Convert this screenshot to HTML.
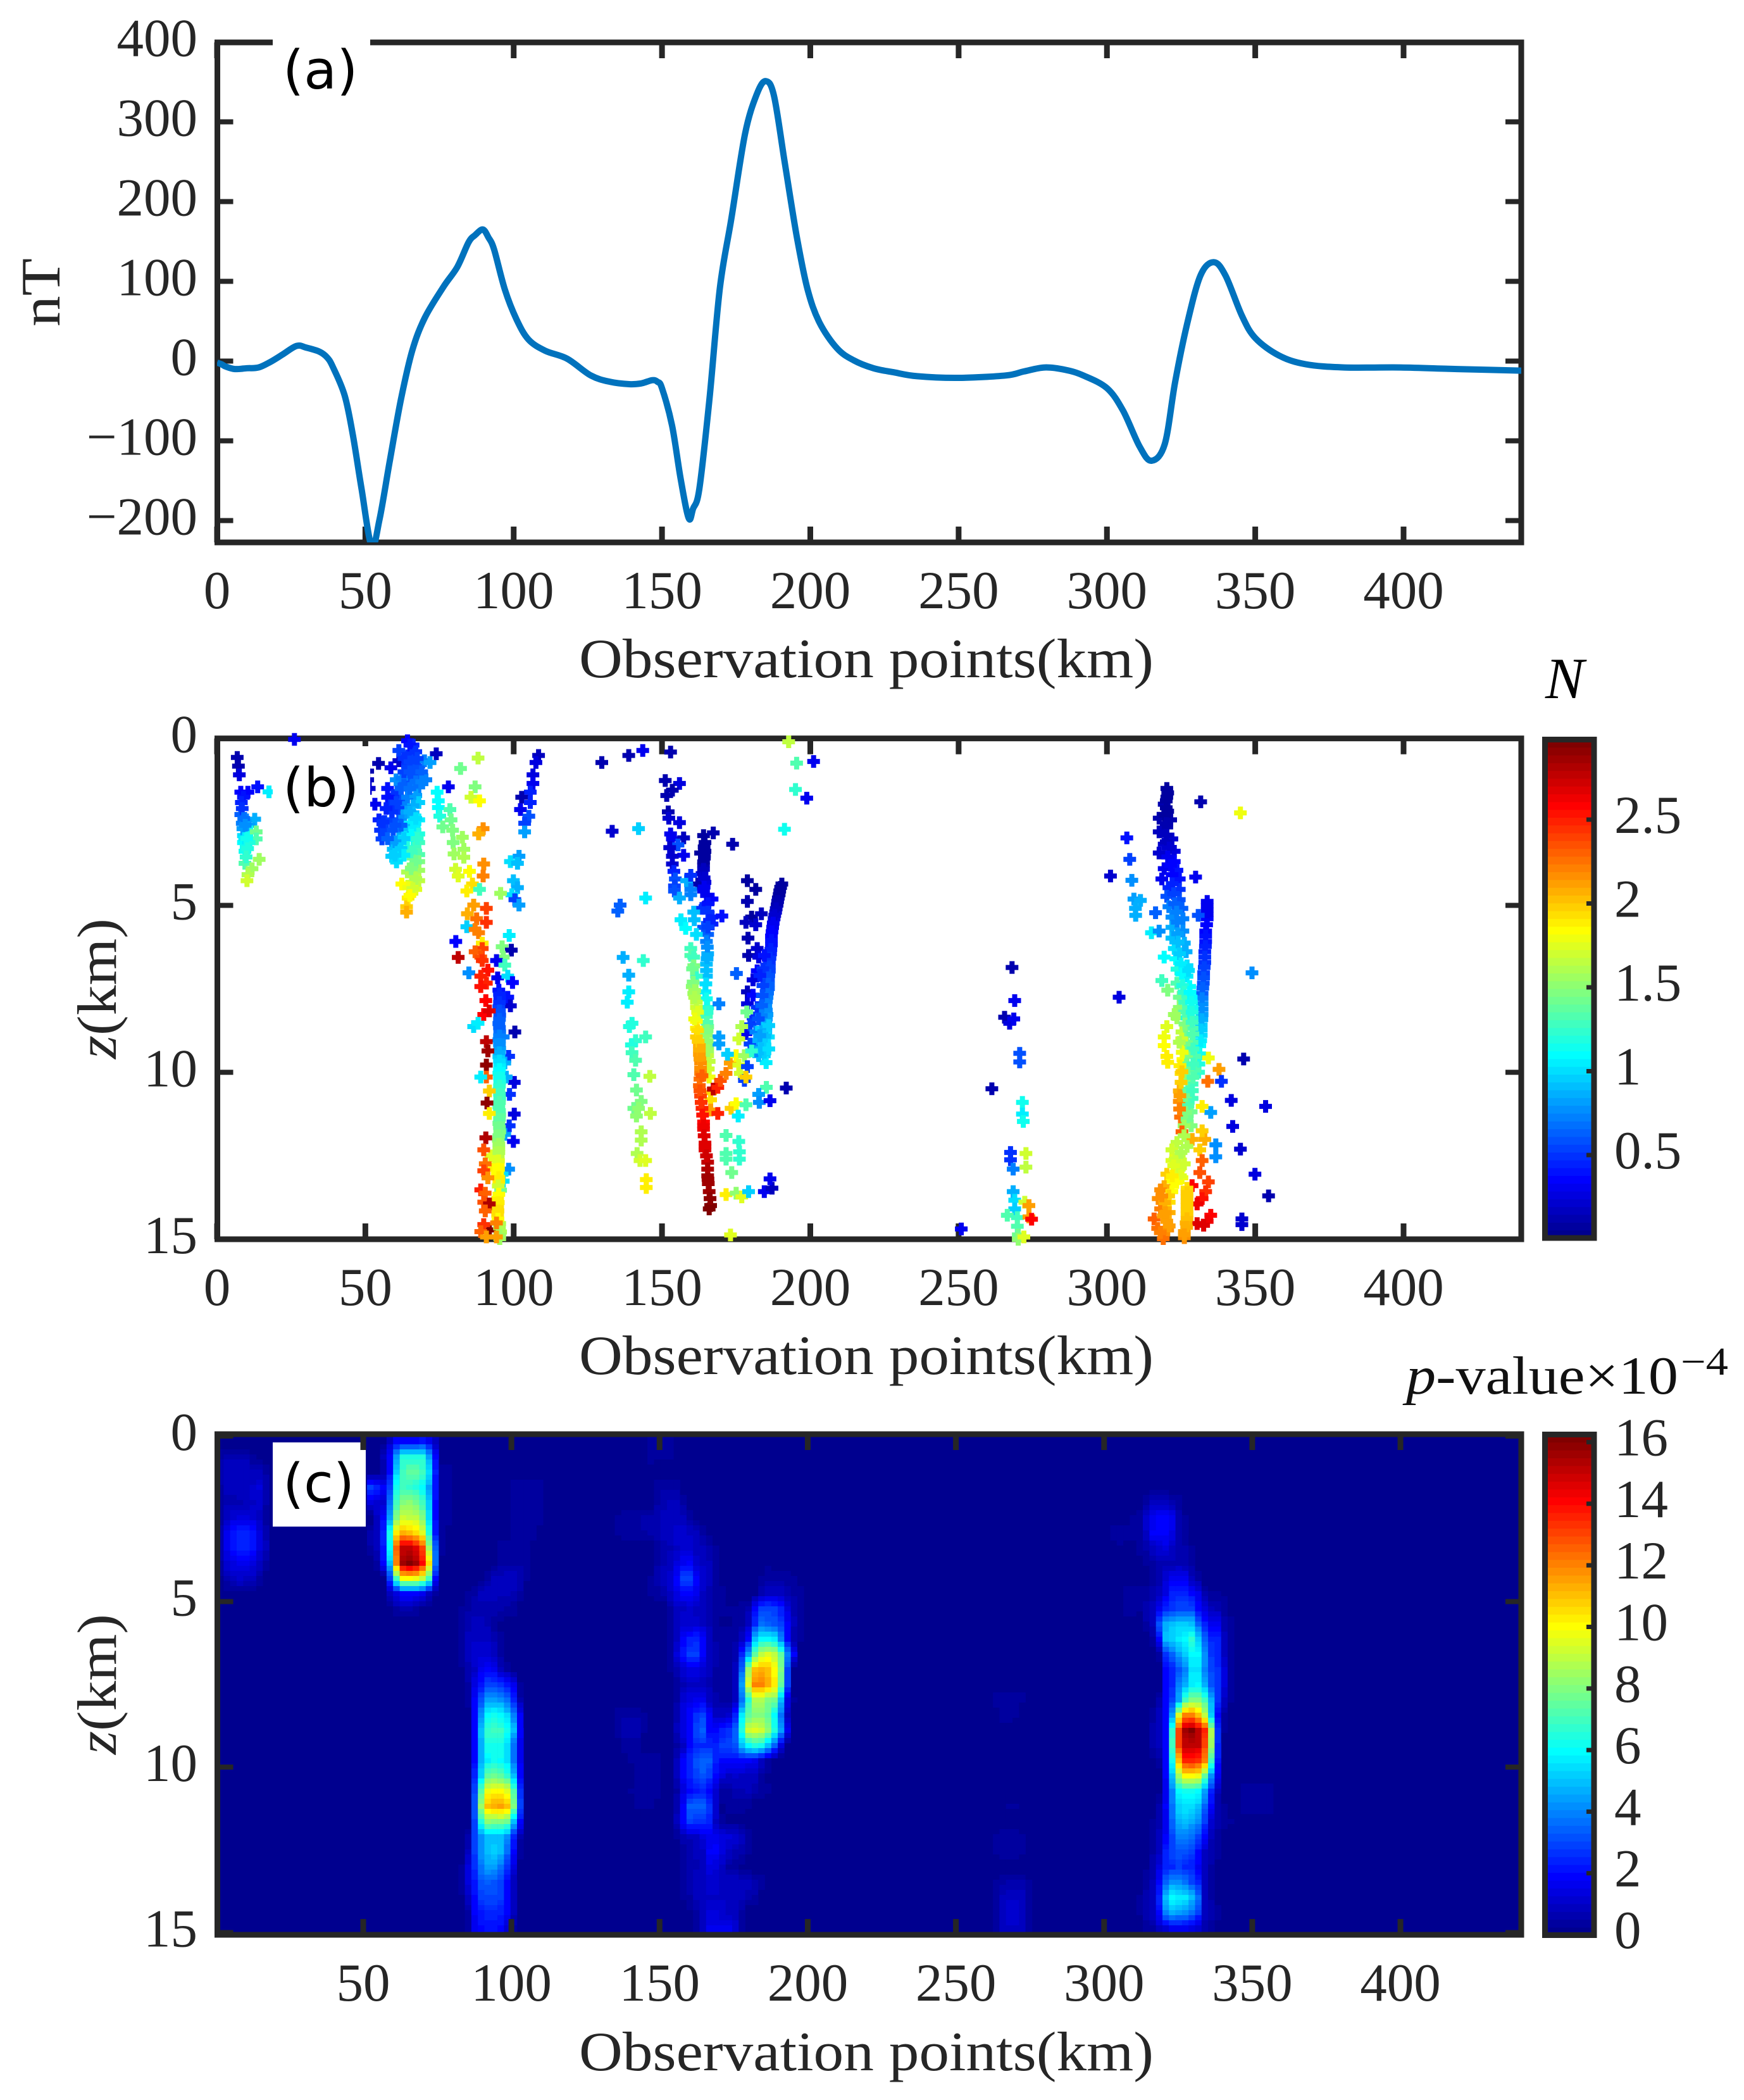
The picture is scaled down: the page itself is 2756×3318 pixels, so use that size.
<!DOCTYPE html>
<html lang="en">
<head>
<meta charset="utf-8">
<title>Magnetic profile, N estimates and p-value sections</title>
<style>
html,body{margin:0;padding:0;background:#fff;}
svg{display:block;}
text{font-family:"Liberation Serif","DejaVu Serif",serif;fill:#262626;}
.panel-tag{font-family:"DejaVu Sans","Liberation Sans",sans-serif;font-size:85px;fill:#000;}
</style>
</head>
<body>
<svg id="figure" xmlns="http://www.w3.org/2000/svg" width="2756" height="3318" viewBox="0 0 2756 3318">
<rect x="0" y="0" width="2756" height="3318" fill="#fff"/>
<defs>
<clipPath id="clip-a"><rect x="343" y="67" width="2061" height="790"/></clipPath>
<clipPath id="clip-c"><rect x="343" y="2266" width="2061" height="791"/></clipPath>
</defs>
<g id="panel-a"></g>
<g id="panel-b"></g>
<g id="panel-c"></g>

<text x="915" y="1070" font-size="88" textLength="908" lengthAdjust="spacingAndGlyphs">Observation points(km)</text>
<text x="915" y="2171" font-size="88" textLength="908" lengthAdjust="spacingAndGlyphs">Observation points(km)</text>
<text x="915" y="3271" font-size="88" textLength="908" lengthAdjust="spacingAndGlyphs">Observation points(km)</text>
<text transform="rotate(-90 94 462)" x="94" y="462" font-size="88" text-anchor="middle" textLength="108" lengthAdjust="spacingAndGlyphs">nT</text>
<text transform="rotate(-90 183 1562)" x="183" y="1562" font-size="88" text-anchor="middle" textLength="222" lengthAdjust="spacingAndGlyphs"><tspan font-style="italic">z</tspan>(km)</text>
<text transform="rotate(-90 183 2661)" x="183" y="2661" font-size="88" text-anchor="middle" textLength="222" lengthAdjust="spacingAndGlyphs"><tspan font-style="italic">z</tspan>(km)</text>
<text x="2442" y="1103" font-size="92" font-style="italic" style="fill:#000">N</text>
<text x="2222" y="2202" font-size="85" textLength="430" lengthAdjust="spacingAndGlyphs" style="fill:#111"><tspan font-style="italic">p</tspan>-value×10</text>
<text x="2656" y="2172" font-size="62" textLength="75" lengthAdjust="spacingAndGlyphs" style="fill:#111">−4</text>
</svg>
<script>
/* ---------- panel (a) magnetic anomaly profile ---------- */
const profileKm = [0,1.5,3,6,10,14,18,22,26.8,30,34.4,37,39,43,45.8,48.7,52.1,54.8,58.2,62,65.8,70,76.3,81,84.8,87,89.6,91.5,93.4,97,101,105,110.6,118,126,132.5,139,143,146.7,148.5,150,153.4,156.3,159,160.5,162.6,166,169.5,173.4,178,182,185,187.8,191.5,195.4,199,203,209,214.6,221.3,228,236,250,266,272,279,286,292,300,305.4,311,315,319.5,323,327,331.5,336,340,345.5,350,358,367,380,399,418,440];
const profileNT = [-2,-4,-7,-10,-9,-8,-1,8,19,17,12,5,-7,-43,-93,-160,-232,-198,-126,-48,13,54,93,118,149,158,165,155,140,90,52,27,13,3,-18,-26,-29,-28,-24,-26,-34,-81,-148,-197,-185,-160,-48,91,179,285,335,351,332,246,157,91,49,16,1,-9,-14,-19,-21,-18,-13,-8,-11,-18,-34,-62,-107,-125,-104,-26,46,107,124,107,57,29,7,-4,-8,-8,-10,-12];
const panelAYTicks = [-200,-100,0,100,200,300,400];
const panelAYLabels = ['−200','−100','0','100','200','300','400'];
const panelXTicks = [0,50,100,150,200,250,300,350,400];
const panelCXTicks = [50,100,150,200,250,300,350,400];
const depthTicks = [0,5,10,15];

/* ---------- panel (b) scatter, each triple is x km, depth km, N ---------- */
const scatterFarLeft = [[6.8,.57,.1],[7.2,.83,.1],[7.5,1.09,.25],[26.1,.03,.3],[13.7,1.45,.4],[10.4,1.61,.35],[8,1.61,.35],[8.9,1.76,.4],[8.2,1.92,.45],[8,2.28,.65],[9.9,2.44,.7],[12.7,2.42,.85],[8.5,2.54,.7],[9.9,2.7,.85],[10.8,2.6,.8],[8.9,2.91,1],[11.3,2.8,1.15],[13.2,2.8,1.4],[13.2,3.01,1.35],[8.9,3.12,1.1],[10.8,3.12,1.2],[9.4,3.38,1.15],[9.4,3.74,1.35],[14.2,3.62,1.55],[11.8,3.9,1.55],[10.4,4.08,1.6],[10.1,4.26,1.7],[17.5,1.6,1.05],[50.8,.98,.1],[50.8,1.24,.15],[51.3,1.5,.2],[8.5,2.1,.5],[9,2.4,.68],[8.7,2.7,.8],[9.5,2.6,.75],[9.3,3,1.05],[10,3,1.12],[9.8,3.25,1.15],[10.3,3.3,1.2],[9.8,3.55,1.25]];
const scatterBody65 = [[54.45,.75,.12],[58.6,.88,.3],[61.3,.67,.2],[73.9,.46,.15],[78,1.45,.3],[53.2,1.97,.3],[64.2,.07,.35],[66.1,.2,.45],[65.6,.41,.5],[64.2,.57,.5],[66.5,.67,.55],[64.2,.83,.55],[68,.83,.6],[61.3,.36,.55],[69.9,.67,.7],[71.8,.72,.8],[66.1,1.03,.6],[68.4,1.14,.65],[70.4,1.24,.7],[64.2,1.24,.6],[66.1,1.4,.7],[68,1.45,.7],[60.4,1.24,.75],[62.3,1.19,.7],[57.5,1.5,.4],[59.4,1.71,.45],[57.5,1.76,.4],[60.8,1.61,.5],[62.3,1.87,.6],[58.5,2.02,.5],[60.4,1.92,.55],[64.2,1.76,.7],[67,1.71,.8],[68,1.92,.95],[66.1,2.02,.85],[63.2,2.07,.7],[54.6,2.44,.45],[56.5,2.49,.5],[58.9,2.44,.55],[61.3,2.44,.6],[63.2,2.33,.75],[66.1,2.23,.9],[68,2.44,1.05],[65.1,2.54,1.05],[55.1,2.75,.5],[57,2.75,.55],[59.4,2.75,.6],[61.8,2.65,.7],[64.2,2.75,.9],[66.5,2.7,1.05],[68,2.86,1.2],[55.6,3.01,.55],[58.9,3.12,.75],[61.3,3.01,.85],[63.2,2.96,1],[66.1,3.01,1.2],[68,3.12,1.3],[59.4,3.32,.9],[61.3,3.32,1],[64.2,3.27,1.2],[67,3.38,1.3],[68,3.48,1.35],[58.9,3.53,.95],[61.8,3.58,1.1],[66.1,3.58,1.4],[68,3.69,1.45],[66.1,3.79,1.45],[68,3.95,1.55],[64.2,4,1.6],[66.5,4.1,1.6],[68,4.26,1.65],[65.6,4.31,1.7],[62.3,4.36,1.85],[64.6,4.47,1.8],[67,4.52,1.75],[64.4,4.78,1.9],[63.9,5.04,2],[63.9,5.2,2.05]];
const scatterBody65Fill = [[65,.2,.4],[67,.4,.5],[63,.6,.5],[65,.7,.52],[67.5,.6,.55],[63,1,.55],[65,1,.58],[67,1,.6],[69,1,.65],[62,1.5,.65],[63,1.4,.62],[65,1.5,.68],[67,1.3,.68],[69,1.3,.7],[61,2.1,.55],[59,2.2,.5],[57,2.1,.45],[62,2.6,.62],[60,2.6,.58],[64,2.2,.8],[65,2.2,.88],[67,2.4,1],[65.5,2.9,1.1],[63,3,.95],[60,3.1,.8],[57.5,3,.62],[56,2.5,.5],[62,3.3,.95],[65.5,3.4,1.3],[67,3.7,1.42],[65.5,3.9,1.48],[67,4.2,1.62],[66,4.5,1.72],[67.5,3,1.25],[63,3.5,1.05],[60.5,3.7,1],[60,3.5,.95],[65,4.7,1.85]];
const scatterDiagonal90 = [[74.2,1.61,1.1],[74.6,1.87,1.1],[74.6,2.07,1.1],[75.1,2.33,1.2],[78.5,2.13,1.35],[78.9,2.44,1.4],[76.1,2.65,1.4],[79.4,2.75,1.45],[82.7,2.96,1.55],[79.6,3.12,1.45],[83.2,3.32,1.55],[79.9,3.46,1.55],[83.2,3.56,1.6],[82.1,.9,1.4],[88,.59,1.65],[87,1.45,1.45],[85.6,1.76,1.7],[88.5,1.87,1.85],[89.7,2.7,2.15],[88.2,2.86,2.05],[80.4,3.92,1.7],[81.3,4.12,1.75],[85.1,3.98,1.85],[89.9,3.76,2.15],[89.7,4.12,2.2],[86.1,4.36,1.95],[84.2,4.57,1.9],[88.5,4.52,1.3],[86.5,4.99,2.1],[90.8,5.09,2.4],[84.4,5.25,2.05],[87.5,5.4,2.25],[90.8,5.51,2.45],[84.2,5.64,.95],[87,5.72,2.2],[88.2,5.82,2.2],[80.5,6.08,.35],[81.3,6.56,2.75],[84.9,7.02,.75],[89.4,6.13,1.9],[89.4,6.29,2.4],[87,6.39,2.3],[88.9,6.55,2.35],[89.4,6.65,2.45],[91.3,6.94,2.55],[88.9,7.12,2.5],[90.8,7.33,2.5],[88.9,7.43,2.55],[90.6,7.85,2.6],[89.9,8.27,2.6],[91.8,8.16,2.7],[86.5,8.63,1],[88,8.53,1.05],[90.8,9.08,2.75],[91.3,9.36,2.85],[90.8,9.78,2.9],[90.8,10.14,2.3],[88.9,10.14,1.05],[91.8,10.56,2],[91,10.92,2.9],[91.8,11.23,1.9],[90.6,11.96,2.8],[89.9,12.32,2.35],[90.4,12.74,2.25],[89.9,12.95,2.4],[91.3,13.16,2.15],[88.9,13.52,2.5],[90.4,13.62,2.3],[89.9,13.89,2.35],[91.8,13.94,2.8],[90.4,14.15,2.3],[89.9,14.56,2.45],[88.9,14.77,2.3],[94.2,14.51,2.2],[94.2,14.93,2.1],[90.8,14.93,2.1]];
const scatterRight100 = [[108.4,.51,.15],[107.5,.72,.25],[106.5,1.09,.25],[106.5,1.35,.3],[105.6,1.61,.45],[102.7,1.76,.1],[105.6,1.92,.45],[102.3,2.13,.3],[105.1,2.33,.6],[103.7,2.54,.55],[103.7,2.8,.8],[101.8,3.53,.8],[98.9,3.69,1],[101.3,3.74,.9],[99.9,4.26,.9],[101.3,4.47,.85],[99.4,4.68,1],[95.6,4.64,1.55],[100.4,4.83,.55],[101.8,4.99,.8],[98.5,5.9,1.05],[96.1,6.24,1.45],[99.2,6.34,.1],[96.5,6.55,1.45],[94.2,6.65,.3],[97,6.79,1.3],[94.6,7.17,.3],[98,7.12,1],[99.6,7.31,.35],[98,7.75,.4],[98.9,8.01,.2],[100.4,8.79,.1],[96.5,8.94,.7],[98.3,9.52,.5],[97,9.72,.85],[100.2,10.3,.25],[97.5,10.14,.85],[98.6,10.66,.5],[100.2,11.25,.25],[98.5,11.6,.5],[97,11.86,.8],[99.9,12.07,.3],[98.3,12.9,.75],[96.5,13.26,1],[96.1,13.05,1]];
const scatterStripe95 = [[95,7.54,.4],[95.3,7.79,.45],[95,8.04,.55],[95.3,8.29,.6],[95,8.54,.62],[95.3,8.79,.68],[95,9.03,.75],[95.3,9.29,.82],[95,9.53,.95],[95.3,9.79,1.05],[95,10.03,1.12],[95.3,10.29,1.2],[95,10.53,1.27],[95.3,10.78,1.3],[95,11.03,1.33],[95.3,11.28,1.36],[95,11.53,1.4],[95.3,11.78,1.45],[94.8,12.03,1.52],[95,12.28,1.6],[94.8,12.53,1.65],[93.2,12.9,1.9],[92.3,12.5,1.75],[94.8,12.78,1.85],[94.6,13.03,1.85],[95,13.28,1.9],[93.7,13.9,1.85],[95.6,13.53,1.4],[94.6,13.78,1.88],[94.6,14.03,1.92],[94.6,14.28,1.95],[95.3,14.53,1.6],[95.6,14.78,1.6],[95.3,14.98,1.55],[91.8,14.72,2.95]];
const scatterStripe95Fill = [[95.2,7.66,.42],[95.2,7.91,.5],[95.2,8.16,.57],[95.2,8.41,.61],[95.2,8.66,.65],[95.2,8.91,.71],[95.2,9.16,.78],[95.2,9.41,.88],[95.2,9.66,1],[95.2,9.91,1.08],[95.2,10.16,1.16],[95.2,10.41,1.23],[95.2,10.65,1.28],[95.2,10.9,1.31],[95.2,11.15,1.34],[95.2,11.4,1.38],[95.2,11.65,1.42],[95,11.9,1.48],[95,12.15,1.56],[95,12.4,1.62],[94.9,12.65,1.75],[94.9,12.9,1.85],[95,13.15,1.87],[94.8,13.4,1.7],[95,13.65,1.85],[94.8,13.9,1.9],[94.7,14.15,1.93],[94.7,14.4,1.85],[95.2,14.65,1.6],[95.3,14.88,1.58]];
const scatterLeft140 = [[129.7,.72,.1],[138.8,.51,.1],[143.5,.36,.3],[152.9,.41,.1],[151.1,1.26,.1],[155.9,1.35,.25],[151.6,1.71,.1],[153.5,1.55,.1],[152.1,2.2,.1],[152.3,2.39,.2],[155.9,2.52,.25],[133.2,2.78,.2],[142.1,2.7,.95],[144.5,4.78,1.05],[135.9,4.99,.65],[135.1,5.17,.65],[136.9,6.56,.85],[143.7,6.65,1.25],[138.8,7.09,.85],[138.8,7.59,1.05],[138.3,7.9,1.05],[139.9,8.53,1.2],[139,8.63,1.2],[144.5,8.94,1.3],[141.1,9.05,1.25],[139.7,9.18,1.2],[139.9,9.41,1.3],[141.1,9.64,1.35],[140.5,10.07,1.35],[145.9,10.12,1.65],[141.4,10.53,1.4],[143,10.87,1.45],[140.5,11.08,1.4],[142.1,11.08,1.5],[141.4,11.31,1.5],[146.1,11.23,1.65],[143,11.78,1.6],[143,12.03,1.6],[141.6,12.43,1.6],[142.6,12.64,1.7],[144.5,12.64,1.75],[144.7,13.21,1.9],[144.7,13.45,1.9]];
const scatterStripe160 = [[152.9,2.86,.3],[153.5,3.01,.3],[157.3,2.98,.15],[155.4,3.19,.6],[152.6,3.27,.2],[157.3,3.5,.3],[153.5,3.53,.2],[153.5,3.76,.2],[154,3.98,.45],[154.5,4.21,.6],[154.2,4.42,.55],[154.2,4.57,.6],[158.3,4.26,.85],[159.7,4.1,.5],[159.7,4.52,.7],[159.7,4.68,.7],[155.9,4.78,.85],[160.7,5.2,.9],[156.4,5.43,1.05],[160.9,5.43,.9],[158,5.69,1.1],[161.6,5.87,1],[159.7,6.29,1.3],[159.7,6.5,1.35],[160.7,6.55,1.3],[160.7,6.81,1.45],[161.6,7.12,1.25],[160.2,7.43,1.5],[160.7,7.64,1.55],[161.6,8.06,1.7],[161.6,7.9,1.65],[161.6,8.47,1.85],[161.6,8.68,1.9],[161.6,8.94,2],[162.6,9.2,2.05],[162.6,9.46,2.1],[163,9.72,2.15],[163,10.03,2.2],[162.6,10.4,2.3],[163,10.71,2.4],[163.5,11.08,2.5],[164,11.49,2.6],[164,11.7,2.65],[164.5,12.12,2.7],[164.5,12.32,2.7],[165.4,12.69,2.75],[165.4,13.1,2.85],[165.9,13.57,2.85],[166.4,13.99,2.95],[165.9,14.09,2.95]];
const scatterStripe160Fill = [[162,8.2,1.75],[162,8.75,1.95],[162.2,9.07,2],[162.6,9.33,2.08],[162.8,9.6,2.12],[163,9.88,2.18],[162.8,10.2,2.25],[162.8,10.55,2.35],[163.2,10.9,2.45],[163.7,11.28,2.55],[164,11.6,2.62],[164.2,11.9,2.68],[164.5,12.22,2.7],[165,12.5,2.72],[165.4,12.9,2.8],[165.6,13.33,2.85],[166.2,13.78,2.9],[165.5,13.2,2.85],[163.5,10.1,2.3],[160.3,6.9,1.4],[160.5,7.3,1.45],[161,7.55,1.55],[161,7.75,1.6],[161,8.4,1.8]];
const scatterStripe165 = [[164,2.91,.05],[167.3,2.83,.1],[164.5,3.12,.05],[164.5,3.38,.05],[163,3.43,.05],[164.3,3.58,.05],[164,3.79,.1],[163.5,4.05,.2],[164.5,4.31,.25],[162.1,4.36,.1],[164,4.57,.3],[166.9,4.81,.35],[164.5,5.04,.45],[163.5,5.09,.5],[166.9,5.35,.45],[166.9,5.56,.45],[170.2,5.32,.4],[164,5.66,.6],[165.4,5.87,.65],[165,6.08,.7],[165.4,6.45,.85],[165,6.76,.9],[165,7.12,.9],[164.5,7.59,1.05],[165.4,8.06,1.2],[165,8.32,1.3],[165.4,8.63,1.4],[165,8.89,1.5],[165.4,9.2,1.5],[165.4,9.5,1.65],[165.9,9.67,1.65],[165.9,10.14,1.8],[166.4,10.61,2],[166.4,10.82,1.95],[166.4,11.13,2.1],[168.8,11.23,2.5],[167.3,10.5,2.75],[168.8,10.45,2.5],[169.7,10.24,2.35],[171.6,10.03,2.2],[173,9.72,2.1],[169.2,8.94,.8],[169.2,9.15,.8],[169.2,7.95,.7],[175,9.5,1.85],[172.1,9.46,.95]];
const scatterStripe165Fill = [[164.2,3.25,.05],[164.3,3.5,.05],[164,3.7,.07],[164,3.92,.15],[164.2,4.18,.22],[164.2,4.45,.28],[165,4.7,.32],[165.5,4.95,.4],[165.5,5.2,.47],[166,5.45,.45],[165.5,5.65,.55],[165.3,6.25,.78],[165.2,6.6,.88],[165,6.95,.9],[164.8,7.35,1],[165,7.8,1.12],[165.2,8.2,1.25],[165.2,8.5,1.35],[165.2,8.75,1.45],[165.2,9.05,1.5],[165.4,9.35,1.58],[165.6,9.9,1.72]];
const scatterBranch175 = [[175.9,9.78,1.75],[176.4,10.03,1.7],[177.8,9.5,1.55],[180.2,9.36,1.25],[175.9,9,1.7],[176.9,8.63,1.6],[178.6,8.19,1.4],[178.8,9.83,.55],[177.8,10.24,.55],[178.3,10.14,2],[173.3,11.08,2],[175,10.94,1.85],[178.3,10.97,1.35],[175.7,11.31,1.05],[171.6,11.89,1.35],[175.9,12.07,1.25],[171.6,12.43,1.35],[176.1,12.38,1.25],[171.6,12.6,1.35],[176.1,12.6,1.25],[173.5,13,1.4],[171.6,13.66,1.9],[175,13.62,1.5],[176.9,13.73,1.75],[179.2,13.57,.95],[184.5,13.57,.3],[187.1,13.47,.15],[186.4,13.19,.3],[185.2,10.45,1.35],[182.6,10.66,.8],[182.8,10.9,.75],[186.4,10.85,.3],[191.9,10.47,.1],[173.1,14.87,1.75]];
const scatterBundle185 = [[178.8,4.26,.05],[181.6,4.52,.05],[178.8,4.88,.1],[180.2,5.35,.05],[183.5,5.25,.15],[178.3,5.51,.15],[181.6,5.58,.2],[179,5.98,.1],[182.1,6.29,.2],[179.2,6.5,.1],[182.6,6.55,.25],[182.1,6.96,.35],[180.7,7.23,.25],[178.8,7.59,.15],[180.7,7.69,.35],[178.8,7.95,.25],[182.1,8.06,.5],[180.7,8.37,.5],[178.3,8.84,.3],[179.7,8.58,.55],[179.7,9.15,.55],[181.6,8.79,.7],[175.1,7.04,.65],[190.4,4.36,.05],[189.7,4.57,.05],[189.2,4.78,.1],[188.8,4.99,.1],[188.3,5.2,.2],[187.8,5.4,.25],[187.3,5.66,.3],[186.9,5.92,.35],[186.9,6.18,.4],[186.6,6.45,.45],[186.2,6.71,.5],[186.2,6.97,.55],[185.9,7.23,.6],[185.9,7.49,.65],[185.4,7.75,.7],[185,8.01,.75],[185.4,8.27,.8],[185,8.53,.85],[185,8.79,.9],[184.5,9.05,.95],[184.5,9.31,.95],[184.5,9.5,.95],[185.1,9.71,1.05],[182.6,9.5,.9],[183.5,8.68,.95],[185.9,8.94,1],[182.6,9.05,.85],[181.6,9.36,.75],[192.7,.1,1.65],[195.4,.74,1.35],[201.1,.69,.3],[195,1.53,1.25],[198.8,1.79,.3],[191.3,2.72,1.15],[173.8,3.17,.1],[250.9,14.69,.3]];
const scatterBundle185Fill = [[190,4.46,.05],[189.5,4.68,.08],[189,4.88,.1],[188.5,5.1,.15],[188,5.3,.22],[187.5,5.53,.28],[187.1,5.79,.33],[186.9,6.05,.38],[186.7,6.32,.42],[186.4,6.58,.47],[186.2,6.84,.52],[186,7.1,.57],[185.9,7.36,.62],[185.6,7.62,.68],[185.2,7.88,.72],[185.2,8.14,.78],[185.2,8.4,.82],[185,8.66,.88],[184.7,8.92,.92],[184.5,9.18,.95],[184.5,9.4,.95],[184,7.4,.55],[183.8,7.7,.6],[183.6,8,.65],[183.5,8.3,.7],[184,6.9,.5],[184.5,6.5,.4],[183.5,9.3,.9],[186,8.6,.95],[186,9.3,1],[183,7.1,.45],[183,8.9,.8],[182.5,8.4,.6]];
const scatterColumn270 = [[268,6.86,.1],[268.9,7.85,.3],[265.5,8.35,.1],[267.2,8.53,.25],[268.6,8.4,.3],[270.6,9.43,.6],[270.6,9.69,.6],[261.2,10.49,.1],[271.5,10.9,1.15],[271.5,11.25,1.05],[271.8,11.47,1.15],[267.5,12.4,.5],[267.5,12.62,.5],[268.4,12.9,.7],[272.7,12.43,1.7],[272.7,12.84,1.65],[268.4,13.57,.85],[268.9,13.83,1],[268.9,14.09,.95],[266.4,14.28,1.35],[269.8,14.35,1.3],[269.8,14.61,1.35],[270.1,14.87,1.4],[270.1,15,1.5],[272.3,13.89,1.7],[273.7,13.99,2.1],[273.7,14.33,2.1],[274.6,14.4,2.6],[272,14.93,1.75]];
const scatterStripe325 = [[320.2,1.5,.05],[320.2,1.76,.05],[319.3,1.97,.1],[320.5,2.18,.05],[317.6,2.39,.1],[321.5,2.44,.1],[320.2,2.65,.1],[317.6,2.8,.15],[321.9,3.01,.2],[319.3,3.17,.2],[317.6,3.43,.2],[322.7,3.38,.25],[322.7,3.69,.35],[319.3,3.9,.3],[323.6,3.95,.4],[318.5,4.21,.3],[324.4,4.21,.4],[320.9,4.47,.45],[324.4,4.52,.5],[320.2,4.73,.6],[324.4,4.83,.6],[320.9,5.04,.7],[325.3,5.09,.65],[321.9,5.35,.75],[325.6,5.4,.7],[321.9,5.66,.85],[325.6,5.77,.75],[321.9,5.98,.9],[326.1,6.13,.85],[322.7,6.29,1],[326.7,6.39,.85],[323.2,6.6,1.1],[327,6.81,1],[323.6,6.91,1.2],[327,7.12,1.05],[323.6,7.33,1.35],[327.9,7.43,1.1],[324.4,7.75,1.4],[328.4,7.75,1.1],[324.4,8.06,1.5],[328.7,8.06,1.15],[323.6,8.37,1.55],[328.7,8.37,1.25],[325.3,8.79,1.65],[328.7,8.68,1.35],[325.6,9.2,1.75],[328.7,9.1,1.35],[325.6,9.62,1.85],[329.6,9.52,1.35],[325,10.03,1.95],[329.6,9.93,1.35],[328.7,10.35,1.3],[324.4,10.56,2.05],[328.7,10.78,1.3],[324.4,10.87,2.15],[328.4,11.18,1.4],[324.8,11.34,2.25],[328.4,11.6,1.45],[327,8.37,1.2],[326.5,8.9,1.4],[327.5,9.3,1.4],[327.3,9.9,1.4],[327.3,10.5,1.35],[327.3,11,1.35],[327,11.4,1.4]];
const scatterStripe325Fill = [[320.5,1.63,.05],[320,1.87,.07],[320,2.08,.07],[319.5,2.3,.08],[320,2.55,.1],[320,2.9,.15],[320,3.1,.18],[321,3.28,.22],[320.5,3.55,.28],[321.5,3.8,.33],[322,4.08,.35],[322,4.35,.42],[322.5,4.65,.55],[322.8,4.95,.65],[323.5,5.2,.7],[323.7,5.5,.72],[323.8,5.85,.8],[324,6.1,.9],[324.5,6.45,.95],[325,6.75,1.05],[325.2,7.05,1.1],[325.5,7.4,1.2],[326,7.6,1.25],[326.2,7.9,1.3],[326.2,8.2,1.35],[326.3,8.55,1.45],[326.8,9.1,1.42],[326.8,9.5,1.45],[327,9.75,1.42],[326.5,10.2,1.5],[326.5,10.7,1.4],[326.5,11.2,1.45],[326,11.6,1.55],[327.5,6.95,1],[328,7.6,1.08],[328.5,7.9,1.12],[328.7,8.2,1.2],[328.7,8.5,1.3],[329,8.85,1.32],[329,9.3,1.3],[329,9.75,1.3],[329,10.15,1.32],[328.8,10.55,1.3],[324.6,9.8,1.9],[325,10.3,2],[324.6,10.7,2.1],[324.5,11.1,2.2],[325.2,9,1.7],[325.4,9.4,1.8]];
const scatterStreak333 = [[333.8,4.88,.3],[333.8,5.14,.3],[333.8,5.4,.33],[333.3,5.77,.35],[333.3,6.08,.4],[333,6.39,.45],[333,6.71,.5],[332.6,7.02,.55],[332.5,7.33,.6],[332.1,7.64,.65],[332.1,7.95,.75],[332.1,8.27,.8],[331.8,8.58,.95],[331.8,8.89,1],[331.3,9.2,1.1]];
const scatterStreak333Fill = [[333.8,5.01,.3],[333.8,5.27,.32],[333.6,5.58,.34],[333.3,5.92,.38],[333.2,6.23,.42],[333,6.55,.47],[332.8,6.86,.52],[332.6,7.17,.57],[332.3,7.48,.62],[332.1,7.79,.7],[332.1,8.11,.78],[332,8.42,.88],[331.8,8.73,.97],[331.6,9.05,1.05],[331.3,9.45,1.15],[331,9.75,1.2],[330.9,10,1.25]];
const scatterAround325 = [[306.7,2.98,.4],[307.7,3.62,.55],[301.2,4.12,.2],[308.4,4.25,.75],[309.1,4.81,.8],[311.3,4.85,.85],[309.6,5.09,.85],[309.7,5.3,.85],[316.4,5.22,.65],[315,5.82,1.05],[317.6,5.77,.75],[319.3,6.55,1.1],[318.5,7.25,1.3],[304.1,7.75,.25],[331.6,1.9,.1],[345,2.23,1.8],[329.9,4.15,.3],[330.8,5.3,.6],[348.9,7.02,.75],[320.5,7.54,1.45],[320.2,8.63,1.75],[319.3,8.94,1.8],[319.3,9.2,1.85],[320.2,9.52,1.9],[320.5,9.7,1.9],[322.7,8.27,1.55],[324.4,9.1,1.6],[325.3,9.98,2],[334.2,9.57,1.8],[337.8,9.91,2.1],[334,10.27,2.25],[338.6,10.27,.5],[346.1,9.6,.1],[341.9,10.84,.25],[353.5,11.02,.25],[335,11.2,.8],[332.1,11.02,1.9],[342.4,11.62,.25],[336.7,12.17,.75],[336.7,12.53,.75],[345,12.3,.2],[349.9,13.05,.25],[354.5,13.7,.1],[345.5,14.39,.2],[345.5,14.56,.2],[331.3,12.32,2],[333,12.01,2.05],[332.1,11.75,2],[328.7,12.01,2.05],[325.3,11.78,2.3],[332.1,12.64,2.3],[331.3,13,2.35],[334.2,13.28,2.4],[328.7,13.39,2.6],[333.3,13.57,2.45],[332.1,13.78,2.55],[330.4,13.94,2.65],[335,14.28,2.6],[333.8,14.46,2.65],[330.4,14.53,2.7],[332.6,14.58,2.7]];
const scatterLower325 = [[323.6,12.1,1.65],[327,12.22,1.6],[321.9,12.32,1.7],[324.4,12.53,1.65],[321.9,12.64,1.75],[326.1,12.74,1.7],[323.6,12.95,1.75],[325.3,13.16,1.8],[320.2,13.05,2],[321.9,13.26,1.85],[319.3,13.42,2.05],[318.1,13.52,2.15],[321.9,13.57,1.85],[317.3,13.78,2.15],[321,13.89,1.95],[318.1,14.09,2.2],[321,14.2,2.05],[315.9,14.39,2.3],[320.2,14.46,2.1],[317.1,14.67,2.25],[320.5,14.72,2.15],[319,14.98,2.25],[327,13.47,1.95],[327,13.73,2],[327,13.99,2],[327,14.25,2],[326.7,14.51,2.05],[326.1,14.77,2.1],[326.1,14.95,2.15],[324.4,12.9,1.7],[326,11.9,1.6],[327,13.6,1.97],[327,13.86,2],[327,14.12,2],[327,14.38,2.02],[326.9,14.64,2.08],[326.1,14.86,2.12],[323,12.6,1.7],[325,12.4,1.62],[322.5,12.8,1.75],[324.8,13.1,1.75],[323.5,13.3,1.85],[322,13.1,1.9],[320.8,13.7,2],[319.5,13.9,2.05],[319,14.3,2.1],[321,14.6,2.1],[318,14.8,2.2],[318.5,13.7,2.15],[319.7,14.2,2.1]];
const colorbarNTicks = [0.5,1,1.5,2,2.5];
const colorbarNLabels = ['0.5','1','1.5','2','2.5'];

/* ---------- panel (c) p-value (x10^-4) sampled over x-columns and depth rows ---------- */
const colorbarPTicks = [0,2,4,6,8,10,12,14,16];
const heatFarLeft = [
[0,0,0,0,0,0,0,0],[.5,.7,.7,.7,.7,.3,0,0],[.7,.9,1,1,1,.8,.8,.5],[.5,.8,.8,.9,.9,1.1,1.3,.6],[.4,.7,.7,.7,.8,1,1.2,.6],[.4,.9,1.2,1.3,1.3,1.2,.9,.3],[.7,1.7,2.2,2.5,2.5,2.2,1.3,.7],[.7,1.6,2.1,2.4,2.4,2.2,1.3,.8],[.5,1.2,1.5,1.6,1.6,1.5,.9,.5],[.2,.7,1,1.1,1,.8,.5,0],[0,.1,.2,.2,.2,.1,0,0],[0,0,0,0,0,0,0,0]];
const heatStripe65 = [
[0,0,.2,1,1.8,2,2,2,2.1,1.7,.8],
[0,0,.8,2,4.5,6.5,6.5,6.5,6.5,4.5,2],
[0,0,.6,2,5.3,7,7.5,7.5,7,5.5,2.3,.5,.5],
[3,2.5,1.8,3,6.2,7,6.8,6.5,6,4.5,2.2,.5,.5],
[1.5,1.2,1.2,3.8,7,8,8.2,7.8,7,5.2,2,.5,.5],
[0,1,1.8,4.5,8,9.2,9,9,8,5.5,2,.5,.5],
[.6,1,2.5,6.2,10.3,11.2,11,10.5,9.5,6.5,2.2,.4],
[.5,.9,2.2,6,12.5,15,15.2,14.5,13,8.5,3.5,.3],
[0,.4,2,5,12,15.5,16,15.5,14,10.5,3.7,.2],
[0,0,0,2.8,7,10,10,9.8,9,7,2,.2],
[0,0,0,.8,1.4,2,2,2,1.6,.8,.3],
[0,0,0,.2,.5,.6,.6,.5,.2],
[0,0,0,0,0,0,0,0,0]];
const heatStripe95 = [
[0,0,0,0,0,0,0,0,.5,.5,.5,.5,.5],
[0,0,0,0,0,0,0,0,.4,.5,.5,.5,.5],
[0,0,0,0,0,0,0,0,.5,.5,.5,.4,.3],
[0,0,0,0,0,0,0,0,.4,.5,.5,.4,.2],
[0,0,0,0,0,0,.4,.5,.5,.5,.4],
[0,0,0,0,0,.2,.4,.5,.5,.5,.3],
[0,0,0,0,.5,.9,.9,.9,.9,.7,.3],
[0,.3,.5,.8,.9,.9,.8,.8,.7,.5],
[.3,.5,.7,.7,.6,.6,.6,.5,.4],
[.3,.6,.8,.8,.7,.4,.2],
[.4,.9,1,1,1,.7,.3],
[.4,1,1.1,1.2,1.2,.9,.4],
[.2,.6,1,1.6,1.9,1.6,.8,.5],
[0,.5,1.5,2.2,3,3,2.7,2.2,1.6,.3],
[0,.3,1.8,3.2,4.5,4.5,4.3,3.6,2.3,.6],
[0,.2,2,4.2,6,6.2,6,5.4,4,1.9,.2],
[0,.2,2,5,6.8,7,6.9,6.1,4.9,2],
[0,.2,2,4.7,6.3,6.3,6.3,5.5,3.6,1.6],
[0,.2,2,4.7,5.8,6.2,6,5.5,3.7,1.7],
[0,0,2.5,5.3,7.5,7.8,7.5,6.7,5,2],
[0,0,3,7.3,9.8,10,10,9.6,7.3,2.6],
[0,0,3.2,8.5,11,11.4,11.5,11,8,2.9],
[0,0,3,6.5,8.2,8,8,7.8,5,2],
[0,.6,2.8,4.2,5,5,5,4.2,2.4,.6],
[0,.8,2.8,4.3,5,5.2,5,3.6,2,.3],
[.3,1.5,2.6,3.8,4.4,4.4,3.6,2.6,1.3,.2],
[.4,1.3,2.2,3.2,3.4,3.3,3,2,.8],
[.2,.9,2,2.8,3,3,2.8,1.9,.8],
[0,.5,1.8,2.2,2.5,2.5,2.3,1.8,.8],
[0,.5,1.6,2,2.1,2.1,2,1.2,.4]];
const heatStripe165 = [
[0,0,0,0,.2,.3,.3,.3,.3],
[0,0,0,0,.2,.4,.3,.3,.3],
[],
[0,0,0,0,0,0,.5,.5,.5,.5],
[0,0,0,0,0,0,.5,.6,.8,.8,.5],
[.3,.5,.5,.5,.6,.7,.7,.9,.9,.9,.8,.4,.2],
[.3,.5,.5,.5,.5,.7,.7,.9,1,1.2,1.2,1,.8,.5,.2],
[0,0,0,0,0,0,.4,.6,.7,1,1.2,1.1,.9,.8,.6,.3],
[0,0,0,0,0,0,.5,.7,.9,1.3,1.7,1.8,1.2,1,.8,.3,0,0,0,0,0,.1,0,.2],
[0,0,0,0,0,.3,.6,.9,1.2,2,3,3,2,1.2,.8,.4,0,0,0,0,0,0,.3,.4,.5,.5,.4,.3,.2],
[0,0,0,0,.2,.3,.4,.6,1,1.5,1.8,1.8,1.6,1,.7,.5,.4,0,0,0,0,.2,.7,1,1,.9,.7,.5,.3],
[0,0,0,0,0,0,0,0,.4,.9,1,1.1,.9,.9,.6,.4,.3,.3,.3,.4,.7,2,3,3,2.8,2.3,1.5,.7,.3],
[0,0,0,0,0,0,0,0,.3,.8,1.1,1.1,1.2,1,.7,.4,.2,.2,.3,.5,1,2.5,3.6,3.4,3.2,2.8,1.9,.8,.3],
[0,0,0,0,0,0,0,0,.4,1,1.9,2.3,2.5,1.9,1,.5,.4,.4,.5,1,2,5,6,6,5.7,4,2,.6,.3],
[0,0,0,0,0,0,0,0,.4,1.3,2.1,2.8,2.8,2,1,.6,.5,.5,.7,2.5,4.5,7.5,9,9.5,9,7.5,4,1.8],
[0,0,0,0,0,0,0,0,.3,.7,1.2,1.5,1.5,1.2,.8,.5,.5,.5,.8,3.5,8.5,11,11.2,11,10,8,3],
[0,0,0,0,0,0,0,0,0,.3,.7,.9,1,.9,.7,.4,.4,.4,1,4.5,9.5,12,12,11.3,10.3,7.5,2.8],
[0,0,0,0,0,0,0,0,0,.5,1.2,1.5,1.6,1.6,.9,.6,.5,.5,1,3.6,6.6,8.7,8.7,8,7.8,5,1.5,.3],
[.4,.5,.5,.5,.3,0,0,0,0,.7,1.5,2,2.6,3,2,1,.9,1.2,2.3,5.7,7.5,8,8,7.6,6,3.7,1],
[.4,.7,.7,.7,.3,0,0,0,0,.8,1.5,2,3,3.4,2,2,2.3,2.6,3.5,6.5,9.2,9.5,9.3,8.2,6.5,4.5,1.7],
[0,.4,.4,.4,0,0,0,0,0,.5,1,2,2.5,2.5,2.5,2.3,3,3,3.3,5,6,6.5,6.3,5,3.4,1.5],
[0,0,.3,.5,.5,.5,.4,0,0,.8,1.8,2.5,3.1,3.5,3.4,2.4,2,2,2,2,1.8,1.6,1,.5],
[0,0,0,.5,.5,.5,.5,0,0,.8,1.8,2.3,3,3.3,2.8,2,1.3,1,1.1,1,.9,.8,.5,.2],
[0,0,.3,.5,.5,.5,.4,0,0,.5,1.3,1.9,2.2,2.3,2,1.2,.4,.4,.7,.7,.8,.7,.5,.3],
[0,0,0,.3,.3,.3,0,0,0,.7,2,3.4,3.5,3.5,2.7,1.2,.2,.3,.3,.3,.3],
[0,0,0,0,0,0,0,0,0,.8,2,3,2.7,2.7,2.3,1,.3,.2,.2,.2],
[0,0,0,0,0,0,0,0,0,.3,.7,.8,1,1.4,1.6,1.6,1.5,1.3,1.2,1,.4],
[0,0,0,0,0,0,0,0,0,0,.4,.6,.8,1,1.8,1.9,1.5,1,.7,.6,.3],
[0,0,0,0,0,0,0,0,0,.2,.4,.6,.7,1,1.4,1.3,.8,.5,.3,.2],
[0,0,0,0,0,0,0,0,0,0,.4,.7,.9,1,1.2,1.1,1,1,1,.9,.8,.7,.4],
[0,0,0,0,0,0,0,0,0,0,.3,.5,.8,.8,1,1,1,1,1,.8,.7,.5],
[0,0,0,0,0,0,0,0,0,0,0,.2,.4,.9,1.3,1.3,1.1,1,.9,.4],
[0,0,0,0,0,0,0,0,0,0,0,0,.3,1,1.6,1.6,1.6,1.6,1.2,.3]];
const heatColumn270 = [
[.3,.4,.4,.4,.3,0],[.2,.4,.4,.3,0,0],[],[],[],[],[],[0,0,.3,.3,0,0],[],
[.3,.4,.4,.4,.3,0],[.3,.4,.4,.4,.3,0],[],
[.3,.5,.6,.6,.6,.3],[.5,.8,1,1,.9,.5],[.5,.9,1.2,1.2,1,.5],[.5,.8,1,1,.8,.4]];
const heatStripe330 = [
[],
[0,0,0,0,0,.5,.8,.8,.8,.6,.4],
[0,0,0,.3,.5,1.2,1.7,1.9,1.9,1.7,.6,.3],
[.5,.5,.4,.3,.5,1,1.8,2,2,1.5,.7,.3],
[0,.2,0,.2,.4,.6,1,1.2,1.3,1,.7,.6,.3],
[0,0,0,0,0,.3,.5,.7,.7,.7,.7,.7,.4],
[0,0,0,0,0,0,.3,.6,1.2,1.6,1.7,1.6,.9,.4],
[0,0,.5,.5,.4,.4,.7,1,1.5,2.4,2.4,2.4,2,1.6,.7,.3,.3,.2],
[0,0,.4,.4,.3,.6,.8,1.6,2.5,2.7,3,3,3,2,1.3,.9,.7,.4,.2],
[0,0,0,0,0,.5,.8,3.3,4.7,5,5.2,5.2,5,3.5,2.3,1.6,1.7,.7,.3],
[0,0,0,0,0,0,.4,2,5,5.3,5.7,6,6.7,5.3,3.5,2.5,2.3,.8,.3],
[0,0,0,0,0,0,0,.4,2.6,3.5,4.4,5.2,6,5.9,4.2,2.7,2.4,.9,.3],
[0,0,0,0,0,0,0,0,2,2.4,3.2,4,5.5,5.5,4,3,2.6,1.3,.3],
[0,0,0,0,0,0,0,0,1.8,2.5,4,4.7,5.8,5.9,4.8,3.3,2.6,1.3,.3],
[0,0,0,0,0,0,0,.6,1.8,2.8,4.5,7,8,8,7,4.7,2.6,.9,.3],
[0,0,0,0,0,0,.4,.9,1.8,4.5,9.5,12,12,11,9,5.2,1.9,.5],
[0,0,0,0,0,0,.6,1,2,6.7,13,15.5,16,15,13.5,8.7,2.7,.3],
[0,0,0,0,0,0,.6,.8,2,7,13,15,15.2,15,13,8.5,2.5],
[0,0,0,0,0,0,.2,.5,2,6.2,11,13.6,13.7,13.3,12,7,2.2],
[0,0,0,0,0,0,0,0,1.8,5,8.5,10,10,9.8,7.5,4.3,1.6],
[0,0,0,0,0,0,0,.2,1.7,4,6,6.3,6.3,6,4.5,2.5,.8],
[0,0,0,0,0,0,0,.6,1.8,3.8,5.3,5.5,5.5,5,3.5,1.8,.6,.3],
[0,0,0,0,0,0,.3,.6,1.7,3.5,4.8,5,4.6,4.2,2.8,1.2,.7,.4,.3],
[0,0,0,0,0,0,.5,1,1.8,3,4,3.9,3.6,3,1.9,.8,.4],
[0,0,0,0,0,0,.5,1,2.3,3,3.3,3.3,2.8,2,1,.6,.4],
[0,0,0,0,0,.2,.6,1.4,2.3,2.5,2.8,2.5,2.4,1.7,.8,.5],
[0,0,0,0,0,.4,.8,1.8,3.5,4.3,4.3,3.8,3,2.5,.9,.5],
[0,0,0,0,.3,.6,1,2.5,5,6,5.8,5.6,5,3.6,1,.5],
[0,0,0,0,.3,.6,1,2,4,4.8,4.5,4.2,3.7,2.8,1,.6,.5],
[0,0,0,0,0,.4,.5,1,1.2,1.6,1.6,1.6,1.4,1.2,.6,.4]];
const heatPatch355 = [[.4,.4,.4,.4,.4],[.4,.4,.4,.4,.4]];
/* first grid column index and first depth-row index of every block above */
const heatBlockColumnStart = [1,24,38,62,120,138,158];
const heatBlockRowStart = [0,0,3,0,17,3,23];
const heatBlockNames = ['far-left','stripe-65','stripe-95','stripe-165','column-270','stripe-330','patch-355'];
const heatBlocks = [heatFarLeft,heatStripe65,heatStripe95,heatStripe165,heatColumn270,heatStripe330,heatPatch355];

const scatterGroups = [scatterFarLeft,scatterBody65,scatterBody65Fill,scatterRight100,scatterStripe95,scatterStripe95Fill,scatterDiagonal90,scatterLeft140,scatterStripe165,scatterStripe165Fill,scatterBundle185,scatterBundle185Fill,scatterBranch175,scatterStripe160,scatterStripe160Fill,scatterColumn270,scatterStreak333,scatterStreak333Fill,scatterStripe325,scatterStripe325Fill,scatterAround325,scatterLower325];

const NS = 'http://www.w3.org/2000/svg';
const AXIS = '#262626';
const xKm = v => 343 + 4.6875 * v;
const xKmC = v => 574 + (v - 50) * 4.683;
const yNT = v => 570.5 - 1.26 * v;
const yDepthB = z => 1166.7 + 52.76 * z;
const yDepthC = z => 2269 + 52.3 * z;
const yN = n => 1957.5 - 265 * n;
const yP = p => 3057 - 48.65 * p;
const N_MAX = 2.98;
const P_MAX = 16.25;

function make(tag, parent) {
  const el = document.createElementNS(NS, tag);
  parent.appendChild(el);
  return el;
}
function clamp01(v) { return Math.max(0, Math.min(1, v)); }
function jetLevel(i) {
  const t = (i + 1) / 64;
  const r = clamp01(Math.min(4 * t - 1.5, -4 * t + 4.5));
  const g = clamp01(Math.min(4 * t - 0.5, -4 * t + 3.5));
  const b = clamp01(Math.min(4 * t + 0.5, -4 * t + 2.5));
  return 'rgb(' + Math.round(r * 255) + ',' + Math.round(g * 255) + ',' + Math.round(b * 255) + ')';
}
function jetValue(v, max) {
  return jetLevel(Math.max(0, Math.min(63, Math.floor(v / max * 64))));
}
function smoothPath(xs, ys) {
  let d = 'M' + xs[0].toFixed(1) + ' ' + ys[0].toFixed(1);
  for (let i = 0; i < xs.length - 1; i++) {
    const p0 = Math.max(0, i - 1);
    const p3 = Math.min(xs.length - 1, i + 2);
    const c1x = xs[i] + (xs[i + 1] - xs[p0]) / 6;
    const c1y = ys[i] + (ys[i + 1] - ys[p0]) / 6;
    const c2x = xs[i + 1] - (xs[p3] - xs[i]) / 6;
    const c2y = ys[i + 1] - (ys[p3] - ys[i]) / 6;
    d += 'C' + c1x.toFixed(1) + ' ' + c1y.toFixed(1) + ' ' + c2x.toFixed(1) + ' ' + c2y.toFixed(1) + ' ' + xs[i + 1].toFixed(1) + ' ' + ys[i + 1].toFixed(1);
  }
  return d;
}

function drawFrame(parent, x0, y0, x1, y1, xTicks, xScale, yTicks, yScale, yLabels, xBaseline, prefix) {
  const frame = make('rect', parent);
  
  
  frame.setAttribute('x', x0);
  frame.setAttribute('y', y0);
  frame.setAttribute('width', x1 - x0);
  frame.setAttribute('height', y1 - y0);
  frame.setAttribute('fill', 'none');
  frame.setAttribute('stroke', AXIS);
  frame.setAttribute('stroke-width', 9);
  xTicks.forEach(v => {
    const px = xScale(v);
    const tick = make('path', parent);
    
    
    tick.setAttribute('d', 'M' + px + ' ' + y0 + 'V' + (y0 + 25) + 'M' + px + ' ' + y1 + 'V' + (y1 - 25));
    tick.setAttribute('stroke', AXIS);
    tick.setAttribute('stroke-width', 9);
    const label = make('text', parent);
    
    
    label.setAttribute('x', px);
    label.setAttribute('y', xBaseline);
    label.setAttribute('font-size', 85);
    label.setAttribute('text-anchor', 'middle');
    label.textContent = String(v);
  });
  yTicks.forEach((v, i) => {
    const py = yScale(v);
    const tick = make('path', parent);
    
    
    tick.setAttribute('d', 'M' + x0 + ' ' + py + 'H' + (x0 + 25) + 'M' + x1 + ' ' + py + 'H' + (x1 - 25));
    tick.setAttribute('stroke', AXIS);
    tick.setAttribute('stroke-width', 8);
    const label = make('text', parent);
    
    
    label.setAttribute('x', 312);
    label.setAttribute('y', py + 22);
    label.setAttribute('font-size', 85);
    label.setAttribute('text-anchor', 'end');
    label.textContent = yLabels[i];
  });
}

function drawTagBox(parent, x, y, w, h, text, tx, ty, name) {
  const box = make('rect', parent);
  
  
  box.setAttribute('x', x);
  box.setAttribute('y', y);
  box.setAttribute('width', w);
  box.setAttribute('height', h);
  box.setAttribute('fill', '#fff');
  const tag = make('text', parent);
  
  
  tag.setAttribute('class', 'panel-tag');
  tag.setAttribute('x', tx);
  tag.setAttribute('y', ty);
  tag.textContent = text;
}

function drawColorbar(parent, top, bottom, ticks, scale, labels, prefix) {
  for (let i = 0; i < 64; i++) {
    const h = (bottom - top) / 64;
    const band = make('rect', parent);
    
    
    band.setAttribute('x', 2442);
    band.setAttribute('y', bottom - (i + 1) * h - 0.4);
    band.setAttribute('width', 77);
    band.setAttribute('height', h + 0.8);
    band.setAttribute('fill', jetLevel(i));
  }
  const frame = make('rect', parent);
  
  
  frame.setAttribute('x', 2441.5);
  frame.setAttribute('y', top);
  frame.setAttribute('width', 77.5);
  frame.setAttribute('height', bottom - top);
  frame.setAttribute('fill', 'none');
  frame.setAttribute('stroke', AXIS);
  frame.setAttribute('stroke-width', 9);
  ticks.forEach((v, i) => {
    const py = scale(v);
    const tick = make('path', parent);
    
    
    tick.setAttribute('d', 'M2519 ' + py + 'H2507');
    tick.setAttribute('stroke', AXIS);
    tick.setAttribute('stroke-width', 7);
    const label = make('text', parent);
    
    
    label.setAttribute('x', 2551);
    label.setAttribute('y', py + 21);
    label.setAttribute('font-size', 85);
    label.textContent = labels[i];
  });
}

/* panel a */
const panelA = document.getElementById('panel-a');
drawFrame(panelA, 343.5, 67, 2404, 857, panelXTicks, xKm, panelAYTicks, yNT, panelAYLabels, 961, 'panel-a');
const profileLine = make('path', panelA);


profileLine.setAttribute('d', smoothPath(profileKm.map(xKm), profileNT.map(yNT)));
profileLine.setAttribute('fill', 'none');
profileLine.setAttribute('stroke', '#0072BD');
profileLine.setAttribute('stroke-width', 10);
profileLine.setAttribute('stroke-linejoin', 'round');
profileLine.setAttribute('clip-path', 'url(#clip-a)');
drawTagBox(panelA, 431, 46, 154, 133, '(a)', 447, 140, 'panel-a-tag');

/* panel b */
const panelB = document.getElementById('panel-b');
drawFrame(panelB, 343.5, 1166.7, 2404, 1958, panelXTicks, xKm, depthTicks, yDepthB, depthTicks.map(String), 2062, 'panel-b');
scatterGroups.forEach(group => {
  group.forEach(point => {
    const px = xKm(point[0]);
    const py = yDepthB(point[1]);
    const marker = make('path', panelB);
    
    
    marker.setAttribute('d', 'M' + (px - 10).toFixed(1) + ' ' + py.toFixed(1) + 'h20M' + px.toFixed(1) + ' ' + (py - 10).toFixed(1) + 'v20');
    marker.setAttribute('stroke', jetValue(point[2], N_MAX));
    marker.setAttribute('stroke-width', 8);
    marker.setAttribute('fill', 'none');
  });
});
drawTagBox(panelB, 431, 1179, 154, 133, '(b)', 447, 1274, 'panel-b-tag');
drawColorbar(panelB, 1168.5, 1956, colorbarNTicks, yN, colorbarNLabels, 'colorbar-n');

/* panel c */
const panelC = document.getElementById('panel-c');
const heatLayer = make('g', panelC);


heatLayer.setAttribute('clip-path', 'url(#clip-c)');
const heatBackground = make('rect', heatLayer);


heatBackground.setAttribute('x', 343);
heatBackground.setAttribute('y', 2266);
heatBackground.setAttribute('width', 2061);
heatBackground.setAttribute('height', 791);
heatBackground.setAttribute('fill', jetLevel(0));
const HEAT_DX = 2.2, HEAT_X0 = -0.4, HEAT_Z0 = 0.172, HEAT_DZ = 0.4589;
heatBlocks.forEach((rows, b) => {
  const columnStart = heatBlockColumnStart[b];
  const rowStart = heatBlockRowStart[b];
  const columnCount = Math.max(...rows.map(r => r.length));
  for (let c = 0; c < columnCount; c++) {
    const px = xKmC(HEAT_DX * (columnStart + c) + HEAT_X0);
    for (let f = -1; f <= (rows.length - 1) * 3 + 1; f++) {
      const pos = Math.max(0, Math.min(rows.length - 1, f / 3));
      const lo = Math.floor(pos);
      const hi = Math.min(rows.length - 1, lo + 1);
      const a = rows[lo][c] || 0;
      const d = rows[hi][c] || 0;
      const value = a + (d - a) * (pos - lo);
      if (value < 0.05) continue;
      const py = yDepthC(HEAT_Z0 + HEAT_DZ * (rowStart + f / 3));
      const cell = make('rect', heatLayer);
      
      
      cell.setAttribute('x', (px - 5.2).toFixed(1));
      cell.setAttribute('y', (py - 4).toFixed(1));
      cell.setAttribute('width', 10.6);
      cell.setAttribute('height', 8.2);
      cell.setAttribute('fill', jetValue(value, P_MAX));
    }
  }
});
drawTagBox(panelC, 431, 2279, 147, 133, '(c)', 447, 2373, 'panel-c-tag');
drawFrame(panelC, 343.5, 2266, 2404, 3057, panelCXTicks, xKmC, depthTicks, yDepthC, depthTicks.map(String), 3161, 'panel-c');
drawColorbar(panelC, 2266.5, 3057.5, colorbarPTicks, yP, colorbarPTicks.map(String), 'colorbar-p-value');
</script>
</body>
</html>
